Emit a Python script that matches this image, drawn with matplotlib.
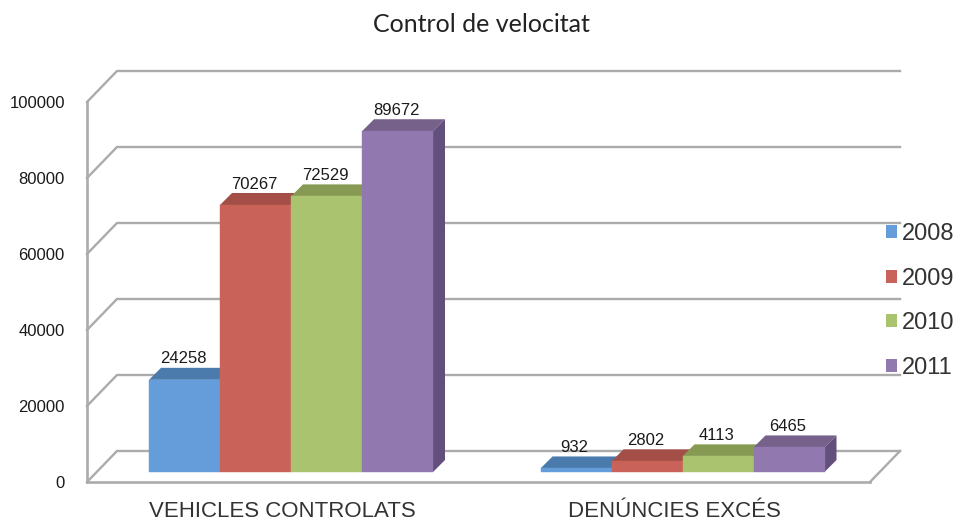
import matplotlib
matplotlib.use("Agg")
import matplotlib.pyplot as plt
from matplotlib.patches import Patch

plt.rcParams["font.family"] = ["Liberation Sans", "DejaVu Sans"]

categories = ["VEHICLES CONTROLATS", "DENÚNCIES EXCÉS"]
years = ["2008", "2009", "2010", "2011"]
v2008 = [24258, 932]
v2009 = [70267, 2802]
v2010 = [72529, 4113]
v2011 = [89672, 6465]
series = [v2008, v2009, v2010, v2011]
yticks = [0, 20000, 40000, 60000, 80000, 100000]

front = ["#659DDB", "#C9635A", "#AAC36F", "#9179AF"]
top = ["#4A7BAC", "#A34F47", "#879A54", "#756189"]
side = ["#3F6A95", "#8C433C", "#748548", "#634F7B"]
GRID = "#ABABAB"

W, H = 964, 524
L, R, B, T = 87, 870, 482, 102
fig = plt.figure(figsize=(W / 100, H / 100), dpi=100, facecolor="white")
ax = fig.add_axes([L / W, 1 - B / H, (R - L) / W, (B - T) / H])
ax.set_xlim(-0.5, 1.5)
ax.set_ylim(0, 100000)
ax.patch.set_alpha(0)

ux = 2 / (R - L)          # data units per pixel, x
uy = 100000 / (B - T)     # data units per pixel, y
wall_dx, wall_dy = 30 * ux, 31 * uy
bar_dx, bar_dy = 8.25 * ux, 10 * uy
depth_x, depth_y = 12 * ux, 12 * uy
bw = 71 * ux

# walls and floor
for v in yticks:
    ax.plot([-0.5, -0.5 + wall_dx, 1.5 + wall_dx], [v, v + wall_dy, v + wall_dy],
            color=GRID, lw=1.7, clip_on=False, zorder=1, solid_joinstyle="miter")
ax.plot([1.5, 1.5 + wall_dx], [0, wall_dy], color=GRID, lw=1.7, clip_on=False, zorder=1)

# bars
for i, vals in enumerate(series):
    for c, v in enumerate(vals):
        x0 = c + bar_dx + (i - 2) * bw
        x1 = x0 + bw
        y0 = bar_dy
        y1 = bar_dy + v
        z = 3 + i
        ax.bar(x0, v, bw, bottom=y0, align="edge", color=front[i], zorder=z + 0.2,
               edgecolor=front[i], lw=0.3, clip_on=False)
        ax.fill([x0, x0 + depth_x, x1 + depth_x, x1], [y1, y1 + depth_y, y1 + depth_y, y1],
                color=top[i], zorder=z, lw=0, clip_on=False)
        ax.fill([x1, x1 + depth_x, x1 + depth_x, x1], [y0, y0 + depth_y, y1 + depth_y, y1],
                color=side[i], zorder=z, lw=0, clip_on=False)
        ax.annotate(str(v), (x0 + bw / 2, y1), xytext=(-1, 15), textcoords="offset points",
                    ha="center", va="center", fontsize=12, color="#1a1a1a", zorder=10,
                    annotation_clip=False)

# axes
for s in ("top", "right"):
    ax.spines[s].set_visible(False)
for s in ("left", "bottom"):
    ax.spines[s].set_color(GRID)
    ax.spines[s].set_linewidth(1.9)
    ax.spines[s].set_zorder(2)
ax.set_yticks(yticks)
ax.set_xticks([0, 1], categories)
ax.tick_params(axis="y", length=0, pad=16, labelsize=12, labelcolor="#1a1a1a")
ax.tick_params(axis="x", length=0, pad=14, labelsize=16, labelcolor="#333333")

handles = [Patch(facecolor=c, edgecolor="none") for c in front]
fig.legend(handles, years, loc="center left", bbox_to_anchor=(886 / W, 1 - 301 / H),
           frameon=False, fontsize=17, labelcolor="#333333", handlelength=0.47, handleheight=0.47,
           handletextpad=0.2, labelspacing=0.95, borderpad=0, borderaxespad=0)

fig.text(481 / W, 1 - 24 / H, "Control de velocitat", ha="center", va="center",
         fontsize=18, color="#222222", family="Lato")

fig.savefig("out.png", dpi=100, facecolor="white")
